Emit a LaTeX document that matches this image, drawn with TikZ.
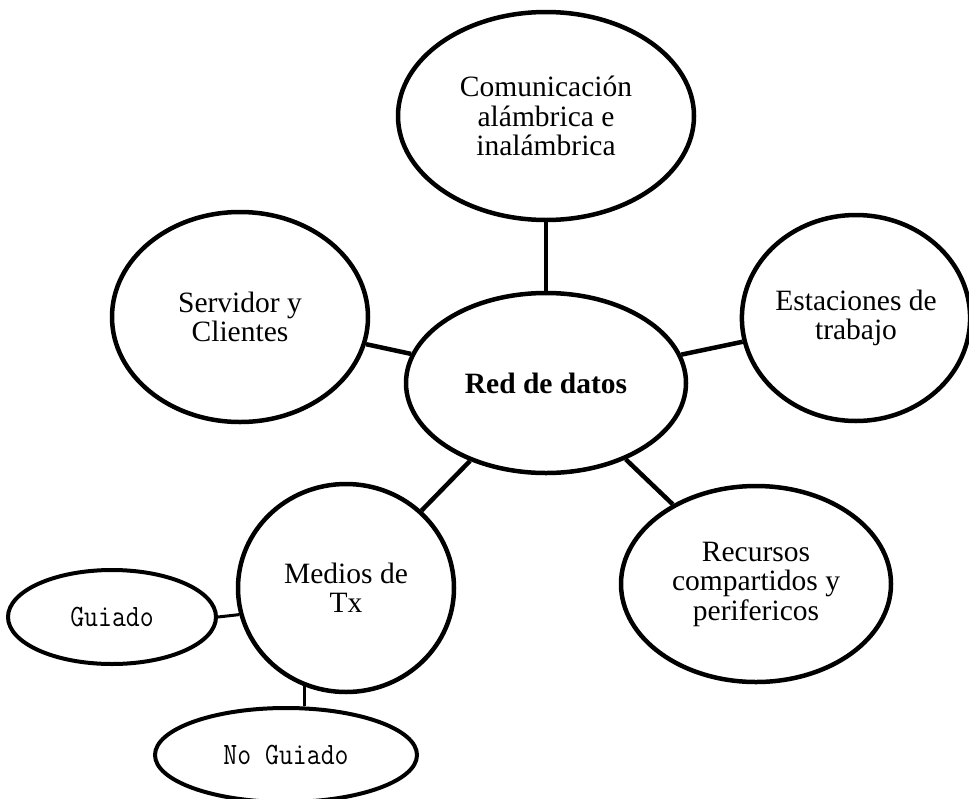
\documentclass[tikz,border=0pt]{standalone}
\usepackage{graphicx}
\usepackage{fontspec}
\setmainfont{Liberation Serif}
\usetikzlibrary{shapes.geometric}
\begin{document}
\begin{tikzpicture}[x=1pt,y=-1pt,
  bubble/.style={ellipse, draw=black, line width=4.5pt, inner sep=0pt, align=center,
                 font=\fontsize{29.5}{29.5}\selectfont},
  leaf/.style={ellipse, draw=black, line width=4pt, inner sep=0pt,
               font=\ttfamily\fontsize{27}{27}\selectfont},
  link/.style={draw=black, line width=4.5pt},
  thinlink/.style={draw=black, line width=3pt}]
\useasboundingbox[fill=white] (0,0) rectangle (969,798);
\node[bubble, minimum width=296pt, minimum height=208pt] (com) at (546,116) {Comunicación\\alámbrica e\\inalámbrica};
\node[bubble, minimum width=280pt, minimum height=180pt] (red) at (546,383) {\textbf{Red de datos}};
\node[bubble, minimum width=256pt, minimum height=210pt] (serv) at (240,317) {Servidor y\\Clientes};
\node[bubble, minimum width=226pt, minimum height=206pt] (est) at (856,318) {Estaciones de\\trabajo};
\node[bubble, minimum width=270pt, minimum height=196pt] (rec) at (756,584) {Recursos\\compartidos y\\perifericos};
\node[bubble, minimum width=216pt, minimum height=208pt] (med) at (346,588) {Medios de\\Tx};
\node[leaf, minimum width=208pt, minimum height=94pt] (gui) at (112,617) {\scalebox{1}[1.15]{Guiado}};
\node[leaf, minimum width=262pt, minimum height=94pt] (nog) at (286,755) {\scalebox{1}[1.15]{No Guiado}};
\draw[link] (com) -- (red);
\draw[link] (red) -- (serv);
\draw[link] (red) -- (est);
\draw[link] (red) -- (med);
\draw[link] (red) -- (rec);
\draw[thinlink] (gui.east) -- (med.194);
\draw[thinlink] (med.247) -- (nog.north -| med.247);
\end{tikzpicture}
\end{document}
